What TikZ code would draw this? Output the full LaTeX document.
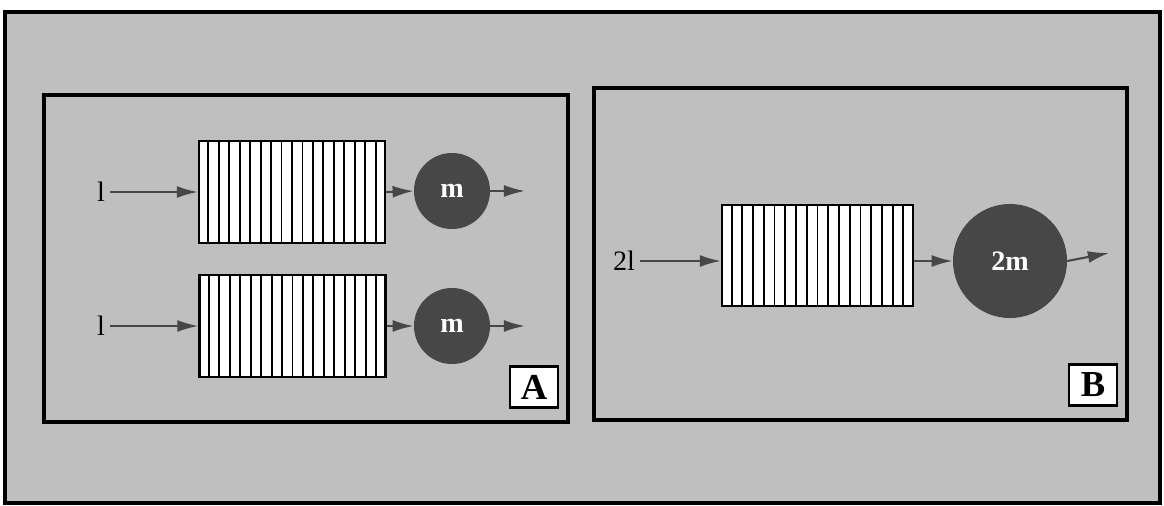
\documentclass[tikz,border=0pt]{standalone}
\usepackage{fontspec}
\setmainfont{Liberation Serif}
\usetikzlibrary{positioning, calc, shapes.geometric, arrows.meta}
\tikzstyle{Arrow} = [
%flow arrow between queue parts:
line width = 1.5pt, draw = black!72,
-{Latex[length = 15pt, width = 8.5pt, fill = black!72]}
]

\begin{document}
\begin{tikzpicture}[x = 0.025cm, y = -0.025cm,
				queue/.style = {rectangle, draw, line width = 1.5pt, fill = white, inner sep = 0pt, minimum width = 4.65cm, minimum height = 2.55cm},
				server/.style = {circle, fill = black!72, text = white, inner sep = 0pt, minimum size = 1.9cm, font = \fontsize{20}{22}\selectfont\bfseries},
				rate/.style = {font = \fontsize{20}{22}\selectfont},
				tag/.style = {rectangle, draw, line width = 2pt, fill = white, minimum width = 1.2cm, minimum height = 1.02cm, font = \fontsize{26}{28}\selectfont\bfseries},
			]
			\useasboundingbox (0,0) rectangle (1164,506);
			\draw[line width = 2.2pt, fill = black!25] (5,12) rectangle (1160,503);

			% two separate queues
			\draw[line width = 2.2pt] (44,95) rectangle (568,422);
			\node[queue](QA) at (292,192){};
			\node[queue](QB) at (292.5,326){};
			\node[server](SA) at (452,191){m};
			\node[server](SB) at (452,326){m};
			\node[rate](LA) at (101,192){l};
			\node[rate](LB) at (101,326){l};
			\coordinate(OA) at (525,191);
			\coordinate(OB) at (525,326);
			\node[tag](TA) at (534,387){A};

			% one shared queue
			\draw[line width = 2.2pt] (594,88) rectangle (1127,420);
			\node[queue, minimum width = 4.775cm, minimum height = 2.525cm](QC) at (817.5,255.5){};
			\node[server, minimum size = 2.85cm](SC) at (1010,261){2m};
			\node[rate](LC) at (624,261){2l};
			\coordinate(OC) at (1109,253);
			\node[tag](TB) at (1093,385){B};

			% queue slots
			\foreach \q in {QA, QB, QC}
				\foreach \i in {1,...,17}
					\draw[line width = 1.3pt] ($(\q.north west)!\i/18!(\q.north east)$) -- ($(\q.south west)!\i/18!(\q.south east)$);

			\draw[Arrow](LA.east)--(QA.west);
			\draw[Arrow](LB.east)--(QB.west);
			\draw[Arrow](LC.east)--(QC.west |- LC.east);
			\draw[Arrow](QA.east)--(SA.west);
			\draw[Arrow](QB.east)--(SB.west);
			\draw[Arrow](QC.east |- SC.west)--(SC.west);
			\draw[Arrow](SA.east)--(OA);
			\draw[Arrow](SB.east)--(OB);
			\draw[Arrow](SC.east)--(OC);

		\end{tikzpicture}
\end{document}
